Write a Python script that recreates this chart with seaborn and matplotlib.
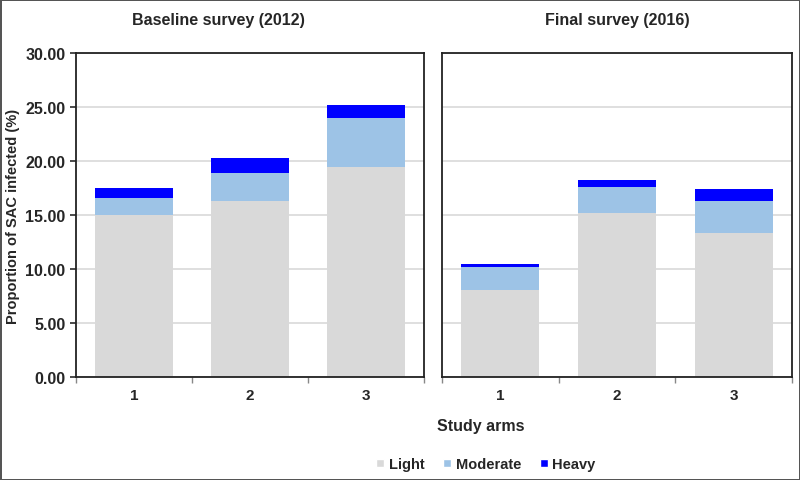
"""Stacked bars: SAC infection intensity by study arm, baseline vs final survey."""
import matplotlib.pyplot as plt
import pandas as pd
import seaborn as sns
from matplotlib.patches import Patch

ARMS = ["1", "2", "3"]
PANELS = ["Baseline survey (2012)", "Final survey (2016)"]
LIGHT = [[15.0, 16.3, 19.4], [8.05, 15.15, 13.3]]
MODERATE = [[1.6, 2.6, 4.6], [2.15, 2.45, 3.0]]
HEAVY = [[0.85, 1.4, 1.15], [0.25, 0.65, 1.1]]
LEVELS = ["Light", "Moderate", "Heavy"]
COLORS = {"Light": "#D9D9D9", "Moderate": "#9DC3E6", "Heavy": "#0000FF"}

sns.set_theme(style="white")
plt.rcParams["font.family"] = ["Liberation Sans", "DejaVu Sans"]
plt.rcParams["font.weight"] = "bold"

fig = plt.figure(figsize=(8, 4.81), dpi=100)
fig.patch.set_edgecolor("#555555")
fig.patch.set_linewidth(2)

ax_l = fig.add_axes([0.095, 0.214, 0.435, 0.674])
ax_r = fig.add_axes([0.5525, 0.214, 0.4375, 0.674])

for i, ax in enumerate([ax_l, ax_r]):
    df = pd.DataFrame({
        "arm": ARMS,
        "Light": LIGHT[i],
        "Moderate": MODERATE[i],
        "Heavy": HEAVY[i],
    })
    df["l"] = df["Light"]
    df["lm"] = df["Light"] + df["Moderate"]
    df["lmh"] = df["lm"] + df["Heavy"]
    # draw cumulative totals back to front
    for col, lvl in [("lmh", "Heavy"), ("lm", "Moderate"), ("l", "Light")]:
        sns.barplot(data=df, x="arm", y=col, color=COLORS[lvl], saturation=1,
                    width=0.67, ax=ax, zorder=2, linewidth=0)
    ax.set_ylim(0, 30)
    ax.set_xlim(-0.5, 2.5)
    ax.set_yticks(range(0, 31, 5))
    ax.yaxis.grid(True, color="#D9D9D9", linewidth=1.2, zorder=0)
    ax.set_axisbelow(True)
    ax.set_xlabel("")
    ax.set_ylabel("")
    ax.tick_params(axis="x", length=0, labelsize=11, pad=8)
    ax.set_xticks([-0.5, 0.5, 1.5, 2.5], minor=True)
    ax.tick_params(axis="x", which="minor", length=4, direction="out", color="#888888", bottom=True)
    for s in ax.spines.values():
        s.set_color("#222222")
        s.set_linewidth(1.3)

# panel titles
fig.text(218 / 800, 0.958, PANELS[0], ha="center", va="center", fontsize=11.5, fontweight="bold")
fig.text(617 / 800, 0.958, PANELS[1], ha="center", va="center", fontsize=11.5, fontweight="bold")

ax_l.set_yticklabels([f"{v:.2f}" for v in range(0, 31, 5)])
ax_l.tick_params(axis="y", length=4, direction="out", left=True, labelsize=11.5, color="#333333")
ax_l.set_ylabel("Proportion of SAC infected (%)", fontsize=10.5, fontweight="bold", labelpad=4)
ax_r.set_yticklabels([])
ax_r.tick_params(axis="y", length=0)

fig.text(481 / 800, 1 - 427 / 481, "Study arms", ha="center", va="center",
         fontsize=11.5, fontweight="bold")

handles = [Patch(facecolor=COLORS[l], label=l) for l in LEVELS]
fig.legend(handles=handles, loc="center", bbox_to_anchor=(486 / 800, 0.033), ncol=3,
           frameon=False, handlelength=0.55, handleheight=0.55, handletextpad=0.3,
           columnspacing=1.3, prop={"weight": "bold", "size": 10.5})

fig.savefig("out.png", dpi=100, edgecolor=fig.get_edgecolor())
